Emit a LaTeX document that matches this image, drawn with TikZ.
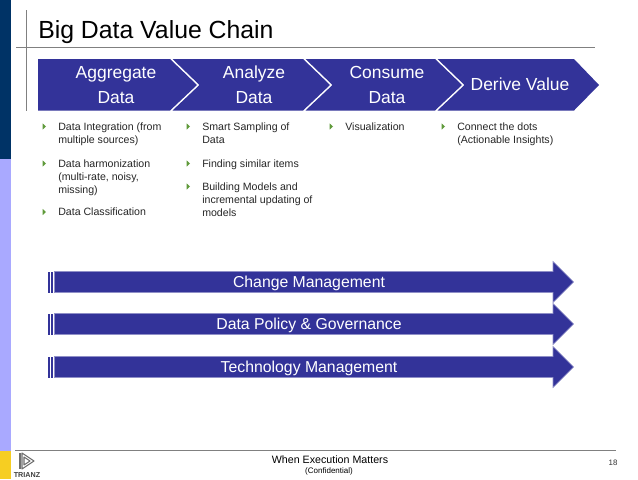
\documentclass[tikz,border=0pt]{standalone}
\usepackage{fontspec}
\setmainfont{Liberation Sans}
\definecolor{navy}{HTML}{003366}
\definecolor{peri}{HTML}{A9A9FF}
\definecolor{gold}{HTML}{F6CE22}
\definecolor{band}{HTML}{333399}
\definecolor{rulegray}{HTML}{808080}
\definecolor{bulgreen}{HTML}{5F9A3A}
\definecolor{logogray}{HTML}{6E6E6E}
\tikzset{
  x=0.75pt,y=-0.75pt,
  chev/.style={fill=band},
  banner/.style={fill=band,draw=band!55!white,line width=0.4pt},
  strip/.style={fill=band},
  rulel/.style={draw=rulegray,line width=0.75pt},
  head/.style={text=white,font=\fontsize{13.1}{18.75}\selectfont,align=center,inner sep=0pt},
  bantext/.style={text=white,font=\fontsize{11.85}{14}\selectfont,inner sep=0pt},
  item/.style={anchor=north west,inner sep=0pt,align=left,text=black!85,
    font=\fontsize{7.95}{9.75}\selectfont,execute at begin node=\strut},
  bul/.style={fill=bulgreen},
  logoline/.style={draw=logogray,line width=0.8pt,line join=round},
}
\newcommand{\bulletat}[2]{\fill[bul] (#1,#2-3.2) -- (#1+3.5,#2) -- (#1,#2+3.2) -- cycle;}
\newcommand{\arrowband}[1]{%
  \fill[strip] (48,#1-10.5) rectangle (50,#1+10.5);
  \fill[strip] (51,#1-10.5) rectangle (53,#1+10.5);
  \path[banner] (54.5,#1-10.5) -- (553,#1-10.5) -- (553,#1-20.5) -- (573.5,#1) -- (553,#1+20.5) -- (553,#1+10.5) -- (54.5,#1+10.5) -- cycle;}
\begin{document}
\begin{tikzpicture}
\useasboundingbox (0,0) rectangle (638,479);
\fill[white] (0,0) rectangle (638,479);
% side bar
\fill[navy] (0,0) rectangle (10.5,159);
\fill[peri] (0,159) rectangle (10.5,451);
\fill[gold] (0,451) rectangle (10.5,479);
% rules
\draw[rulel] (26,10) -- (26,111);
\draw[rulel] (16,47.5) -- (595,47.5);
\draw[rulel] (15,450.5) -- (616,450.5);
% title
\node[anchor=base west,inner sep=0pt,font=\fontsize{18.6}{22}\selectfont] (title) at (38,38) {Big Data Value Chain};
% chevrons
\fill[chev] (38,59) -- (170,59) -- (197,85) -- (170,110.5) -- (38,110.5) -- cycle;
\fill[chev] (172.5,59) -- (303,59) -- (330,85) -- (303,110.5) -- (172.5,110.5) -- (199.5,85) -- cycle;
\fill[chev] (305.5,59) -- (435,59) -- (462,85) -- (435,110.5) -- (305.5,110.5) -- (332.5,85) -- cycle;
\fill[chev] (437.5,59) -- (574,59) -- (599,85) -- (574,110.5) -- (437.5,110.5) -- (464.5,85) -- cycle;
\node[head] (h1) at (116,85) {Aggregate\\Data};
\node[head] (h2) at (254,85) {Analyze\\Data};
\node[head] (h3) at (387,85) {Consume\\Data};
\node[head] (h4) at (520,84) {Derive Value};
% column 1
\bulletat{42.5}{126.5}
\node[item] (a1) at (58,123) {Data Integration (from\\multiple sources)};
\bulletat{42.5}{163.5}
\node[item] (a2) at (58,160) {Data harmonization\\(multi-rate, noisy,\\missing)};
\bulletat{42.5}{212}
\node[item] (a3) at (58,206.5) {Data Classification};
% column 2
\bulletat{186.5}{126.5}
\node[item] (b1) at (202,123) {Smart Sampling of\\Data};
\bulletat{186.5}{163.5}
\node[item] (b2) at (202,158) {Finding similar items};
\bulletat{186.5}{186.5}
\node[item] (b3) at (202,183) {Building Models and\\incremental updating of\\models};
% column 3
\bulletat{329.5}{126.5}
\node[item] (c1) at (345,121) {Visualization};
% column 4
\bulletat{441.5}{126.5}
\node[item] (d1) at (457,123) {Connect the dots\\(Actionable Insights)};
% banners
\arrowband{282}
\arrowband{324}
\arrowband{367}
\node[bantext] (t1) at (309,283.7) {Change Management};
\node[bantext] (t2) at (309,325.7) {Data Policy \& Governance};
\node[bantext] (t3) at (309,368.7) {Technology Management};
% footer
\node[inner sep=0pt,font=\fontsize{8}{10}\selectfont] (f1) at (330,459.5) {When Execution Matters};
\node[inner sep=0pt,font=\fontsize{6}{8}\selectfont] (f2) at (329,471) {(Confidential)};
\node[inner sep=0pt,font=\fontsize{5.9}{8}\selectfont,text=black!80] (pg) at (613,463) {18};
% logo
\draw[logogray,line width=1.1pt] (20,453) -- (20,469);
\draw[logoline] (22,453) -- (34,461) -- (22,469) -- cycle;
\draw[logoline] (24,457) -- (30,461) -- (24,465) -- cycle;
\node[inner sep=0pt,font=\bfseries\fontsize{5.4}{6}\selectfont,text=black!75] (logo) at (27,475) {TRIANZ};
\end{tikzpicture}
\end{document}
